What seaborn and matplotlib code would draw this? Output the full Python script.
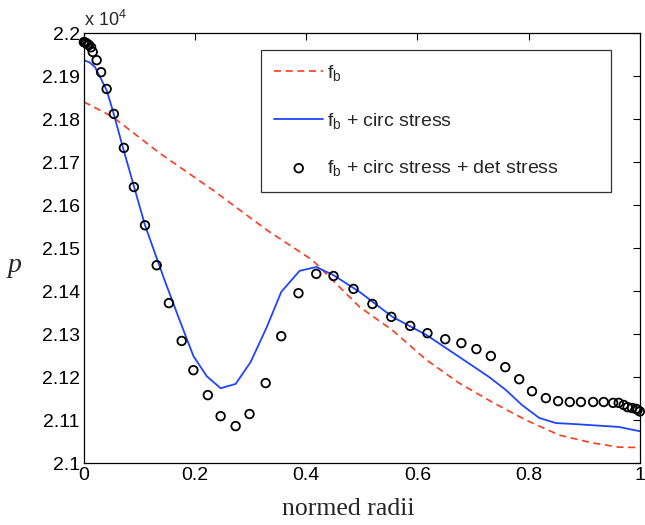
import matplotlib
matplotlib.use("Agg")
import matplotlib.pyplot as plt
import seaborn as sns
import numpy as np
from matplotlib.ticker import FuncFormatter, MultipleLocator

# ---- data (p in units of 10^4) ----
fb_x = [0.0, 0.052, 0.136, 0.232, 0.329, 0.411, 0.496, 0.555, 0.616, 0.675,
        0.734, 0.795, 0.855, 0.914, 0.962, 1.0]
fb_y = [2.1840, 2.1805, 2.1721, 2.1635, 2.1542, 2.1472, 2.1363, 2.1309, 2.1240,
        2.1186, 2.1142, 2.1100, 2.1065, 2.1047, 2.1037, 2.1036]

circ_x = [0.0, 0.010, 0.020, 0.029, 0.041, 0.052, 0.070, 0.110, 0.145, 0.172,
          0.197, 0.221, 0.246, 0.273, 0.300, 0.329, 0.355, 0.388, 0.418, 0.449,
          0.496, 0.555, 0.616, 0.675, 0.729, 0.759, 0.788, 0.819, 0.849, 0.878,
          0.914, 0.962, 1.0]
circ_y = [2.1937, 2.1932, 2.1921, 2.1898, 2.1867, 2.1820, 2.1735, 2.1553, 2.1426,
          2.1333, 2.1249, 2.1202, 2.1174, 2.1184, 2.1235, 2.1316, 2.1398, 2.1447,
          2.1456, 2.1437, 2.1398, 2.1340, 2.1298, 2.1247, 2.1200, 2.1170, 2.1135,
          2.1105, 2.1093, 2.1091, 2.1088, 2.1084, 2.1074]

det_x = [0.0, 0.002, 0.004, 0.007, 0.009, 0.013, 0.016, 0.023, 0.031, 0.041,
         0.054, 0.072, 0.090, 0.110, 0.131, 0.153, 0.176, 0.197, 0.223, 0.246,
         0.273, 0.298, 0.327, 0.355, 0.386, 0.418, 0.449, 0.485, 0.519, 0.553,
         0.587, 0.618, 0.650, 0.679, 0.706, 0.732, 0.758, 0.783, 0.806, 0.831,
         0.853, 0.874, 0.894, 0.916, 0.935, 0.952, 0.962, 0.971, 0.978, 0.986,
         0.993, 0.996, 1.0]
det_y = [2.1979, 2.1978, 2.1977, 2.1974, 2.1972, 2.1967, 2.1956, 2.1937, 2.1909,
         2.1870, 2.1812, 2.1733, 2.1642, 2.1553, 2.1460, 2.1372, 2.1284, 2.1216,
         2.1158, 2.1109, 2.1086, 2.1114, 2.1186, 2.1295, 2.1395, 2.1440, 2.1435,
         2.1405, 2.1370, 2.1340, 2.1319, 2.1302, 2.1288, 2.1279, 2.1265, 2.1249,
         2.1223, 2.1195, 2.1167, 2.1151, 2.1144, 2.1142, 2.1142, 2.1142, 2.1142,
         2.1140, 2.1140, 2.1135, 2.1130, 2.1128, 2.1126, 2.1124, 2.1120]

labels = ["f$_\\mathregular{b}$",
          "f$_\\mathregular{b}$ + circ stress",
          "f$_\\mathregular{b}$ + circ stress + det stress"]

sns.set_style("white")
plt.rcParams["font.family"] = ["Liberation Sans", "DejaVu Sans"]
plt.rcParams["mathtext.default"] = "regular"

fig = plt.figure(figsize=(6.45, 5.25), dpi=100)
ax = fig.add_axes([0.130, 0.118, 0.862, 0.819])

sns.lineplot(x=fb_x, y=fb_y, ax=ax, color="#ff3b1f", lw=1.2,
             linestyle=(0, (4.2, 2.8)), label=labels[0], sort=False)
sns.lineplot(x=circ_x, y=circ_y, ax=ax, color="#1f45ff", lw=1.3,
             label=labels[1], sort=False)
sns.scatterplot(x=det_x, y=det_y, ax=ax, marker="o", s=38,
                facecolor="none", edgecolor="black", linewidth=1.3,
                label=labels[2], clip_on=False, zorder=5)

ax.set_xlim(0, 1)
ax.set_ylim(2.1, 2.2)
ax.xaxis.set_major_locator(MultipleLocator(0.2))
ax.yaxis.set_major_locator(MultipleLocator(0.01))
fmt = FuncFormatter(lambda v, p: "%g" % round(v, 4))
ax.xaxis.set_major_formatter(fmt)
ax.yaxis.set_major_formatter(fmt)
ax.tick_params(direction="in", length=5, width=0.8, top=True, right=True,
               labelsize=14, colors="black", pad=3)
for s in ax.spines.values():
    s.set_visible(True)
    s.set_color("black")
    s.set_linewidth(0.9)

ax.set_xlabel("normed radii", family=["Liberation Serif"], fontsize=18.5)
ax.xaxis.set_label_coords(0.476, -0.108)
ax.xaxis.label.set_va("center")
ax.set_ylabel("p", family=["Liberation Serif"], style="italic", fontsize=20,
              rotation=0, va="center", ha="center")
ax.yaxis.set_label_coords(-0.124, 0.46)
ax.text(0.0, 1.006, "x 10$^\\mathregular{4}$", transform=ax.transAxes,
        fontsize=13, ha="left", va="bottom")

leg = ax.legend(loc="upper left", bbox_to_anchor=(0.319, 0.961, 0.630, 0.0),
                mode="expand", fontsize=14,
                frameon=True, fancybox=False, edgecolor="black",
                handlelength=2.5, handletextpad=0.2, labelspacing=1.42,
                borderpad=0.68, borderaxespad=0)
leg.get_frame().set_linewidth(0.9)

fig.savefig("out.png", dpi=100)
